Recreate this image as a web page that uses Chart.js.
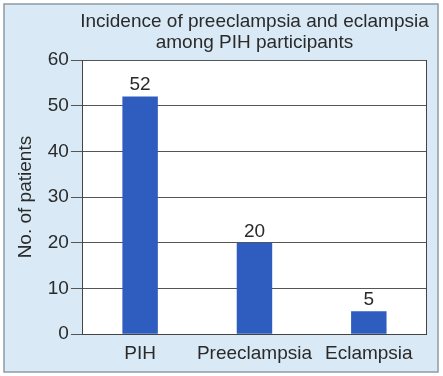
<!DOCTYPE html>
<html>
<head>
<meta charset="utf-8">
<script src="https://cdn.jsdelivr.net/npm/chart.js@4/dist/chart.umd.min.js"></script>
<style>
  html, body { margin: 0; padding: 0; background: #ffffff; }
  #wrap { width: 443px; height: 376px; }
</style>
</head>
<body>
<div id="wrap"><canvas id="myChart" width="443" height="376"></canvas></div>
<script>
const categories = ['PIH', 'Preeclampsia', 'Eclampsia']
const patients = [52, 20, 5]
const yTicks = [0, 10, 20, 30, 40, 50, 60]
const titleLines = ['Incidence of preeclampsia and eclampsia', 'among PIH participants']

const police = '"Liberation Sans", Arial, sans-serif'

// fond bleu, cadre, zone blanche, titre et valeurs
const fond = {
  id: 'fond',
  beforeDraw(chart) {
    const ctx = chart.ctx
    const a = chart.chartArea
    ctx.save()
    ctx.fillStyle = '#ffffff'
    ctx.fillRect(0, 0, chart.width, chart.height)
    ctx.fillStyle = '#d9eaf6'
    ctx.fillRect(4, 4, 434, 368)
    ctx.strokeStyle = '#8d9ba6'
    ctx.lineWidth = 1.5
    ctx.strokeRect(4, 4, 434, 368)
    ctx.fillStyle = '#ffffff'
    ctx.fillRect(a.left, a.top, a.right - a.left, a.bottom - a.top)
    ctx.restore()
  },
  afterDatasetsDraw(chart) {
    const ctx = chart.ctx
    const a = chart.chartArea
    ctx.save()
    ctx.strokeStyle = '#444'
    ctx.lineWidth = 1
    ctx.beginPath()
    ctx.moveTo(a.right + 0.5, a.top)
    ctx.lineTo(a.right + 0.5, a.bottom)
    ctx.stroke()

    ctx.fillStyle = '#2a2a2a'
    ctx.font = '19px ' + police
    ctx.textAlign = 'center'
    ctx.textBaseline = 'middle'
    const cx = (a.left + a.right) / 2
    titleLines.forEach((t, i) => ctx.fillText(t, cx, 22 + i * 21))

    ctx.textBaseline = 'bottom'
    chart.getDatasetMeta(0).data.forEach((bar, i) => {
      ctx.fillText(patients[i], bar.x, bar.y - 2)
    })
    ctx.restore()
  }
}

const data = {
  labels: categories,
  datasets: [
    {
      label: 'No. of patients',
      backgroundColor: '#2f5cbf',
      data: patients,
      barPercentage: 0.31,
      categoryPercentage: 1
    }
  ]
}

const config = {
  type: 'bar',
  data: data,
  plugins: [fond],
  options: {
    responsive: false,
    animation: false,
    layout: { padding: { left: 12, right: 17, top: 60, bottom: 3 } },
    plugins: {
      legend: { display: false },
      tooltip: { enabled: false }
    },
    scales: {
      x: {
        grid: { display: false, drawTicks: false },
        border: { color: '#444', width: 1 },
        ticks: {
          color: '#2a2a2a',
          padding: 8,
          autoSkip: false,
          maxRotation: 0,
          minRotation: 0,
          font: { family: police, size: 19 }
        }
      },
      y: {
        min: 0,
        max: 60,
        afterBuildTicks(axis) {
          axis.ticks = yTicks.map((v) => ({ value: v }))
        },
        grid: { color: '#555', lineWidth: 1, tickLength: 12, drawTicks: true },
        border: { color: '#444', width: 1 },
        title: {
          display: true,
          text: 'No. of patients',
          color: '#2a2a2a',
          padding: { top: 2, bottom: 9 },
          font: { family: police, size: 19 }
        },
        ticks: {
          color: '#2a2a2a',
          padding: 2,
          font: { family: police, size: 19 }
        }
      }
    }
  }
}

const myChart = new Chart(document.getElementById('myChart'), config)
</script>
</body>
</html>
